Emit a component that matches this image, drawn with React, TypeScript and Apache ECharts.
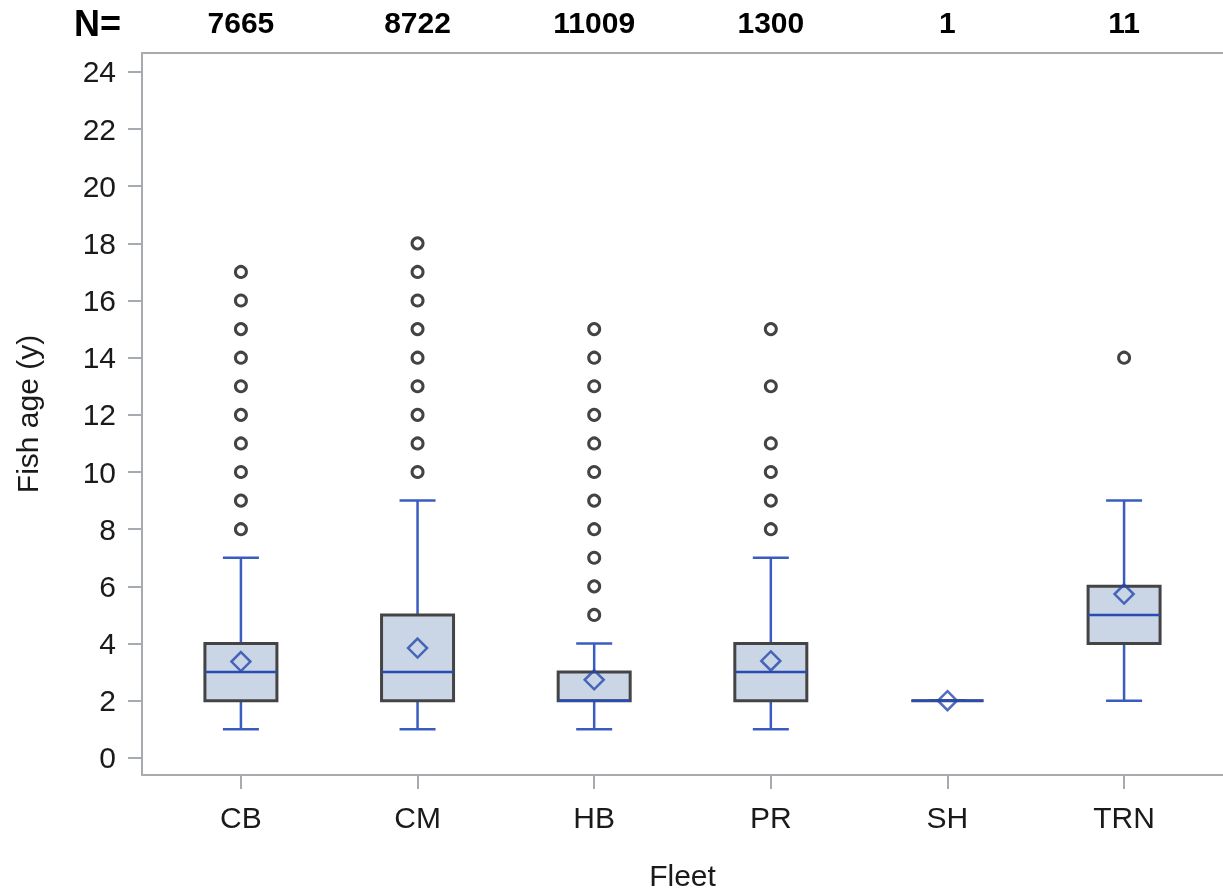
import React, { useEffect, useRef } from 'react';
import * as echarts from 'echarts';

const fleets = ['CB', 'CM', 'HB', 'PR', 'SH', 'TRN'];
const counts = [7665, 8722, 11009, 1300, 1, 11];
const whiskerLow = [1, 1, 1, 1, 2, 2];
const q1 = [2, 2, 2, 2, 2, 4];
const medians = [3, 3, 2, 3, 2, 5];
const q3 = [4, 5, 3, 4, 2, 6];
const whiskerHigh = [7, 9, 4, 7, 2, 9];
const means = [3.37, 3.84, 2.73, 3.39, 2.0, 5.73];
const outliersCB = [8, 9, 10, 11, 12, 13, 14, 15, 16, 17];
const outliersCM = [10, 11, 12, 13, 14, 15, 16, 17, 18];
const outliersHB = [5, 6, 7, 8, 9, 10, 11, 12, 13, 14, 15];
const outliersPR = [8, 9, 10, 11, 13, 15];
const outliersSH: number[] = [];
const outliersTRN = [14];
const yTicks = [0, 2, 4, 6, 8, 10, 12, 14, 16, 18, 20, 22, 24];
const xTicks = [0, 1, 2, 3, 4, 5];

const FONT = "'Liberation Sans', Arial, Helvetica, sans-serif";
const AXIS_COLOR = '#a7abaf';

export default function App() {
  const ref = useRef<HTMLDivElement>(null);
  useEffect(() => {
    if (!ref.current) return;
    const chart = echarts.init(ref.current, undefined, { renderer: 'svg' });
    const outlierGroups = [outliersCB, outliersCM, outliersHB, outliersPR, outliersSH, outliersTRN];
    const outlierData: number[][] = [];
    outlierGroups.forEach((g, i) => g.forEach((v) => outlierData.push([i, v])));
    const boxData = fleets.map((_, i) => [i, whiskerLow[i], q1[i], medians[i], q3[i], whiskerHigh[i]]);
    const meanData = means.map((m, i) => [i, m]);

    const option: any = {
      animation: false,
      textStyle: { fontFamily: FONT },
      grid: { left: 142, right: 0, top: 53, bottom: 121, containLabel: false },
      graphic: [
        {
          type: 'text',
          left: 74,
          top: 5,
          style: { text: 'N=', font: `bold 36px ${FONT}`, fill: '#000' },
        },
      ],
      xAxis: [
        {
          type: 'value',
          min: -0.56,
          max: 5.56,
          position: 'bottom',
          axisLine: { show: true, onZero: false, lineStyle: { color: AXIS_COLOR, width: 2 } },
          axisTick: { show: true, length: 14, customValues: xTicks, lineStyle: { color: AXIS_COLOR, width: 2 } },
          axisLabel: {
            customValues: xTicks,
            formatter: (v: number) => fleets[Math.round(v)] ?? '',
            fontSize: 30,
            margin: 27,
            color: '#1a1a1a',
            fontFamily: FONT,
          },
          splitLine: { show: false },
          name: 'Fleet',
          nameLocation: 'middle',
          nameGap: 85,
          nameTextStyle: { fontSize: 30, color: '#1a1a1a', fontFamily: FONT },
        },
        {
          type: 'value',
          min: -0.56,
          max: 5.56,
          position: 'top',
          axisLine: { show: true, onZero: false, lineStyle: { color: AXIS_COLOR, width: 2 } },
          axisTick: { show: false },
          axisLabel: {
            customValues: xTicks,
            formatter: (v: number) => String(counts[Math.round(v)] ?? ''),
            fontSize: 30,
            fontWeight: 'bold',
            margin: 16,
            color: '#000',
            fontFamily: FONT,
          },
          splitLine: { show: false },
        },
      ],
      yAxis: {
        type: 'value',
        min: -0.6,
        max: 24.66,
        axisLine: { show: true, onZero: false, lineStyle: { color: AXIS_COLOR, width: 2 } },
        axisTick: { show: true, length: 14, customValues: yTicks, lineStyle: { color: AXIS_COLOR, width: 2 } },
        axisLabel: { customValues: yTicks, fontSize: 30, margin: 26, color: '#1a1a1a', fontFamily: FONT },
        splitLine: { show: false },
        name: 'Fish age (y)',
        nameLocation: 'middle',
        nameGap: 100,
        nameTextStyle: { fontSize: 30, color: '#1a1a1a', fontFamily: FONT },
      },
      series: [
        {
          type: 'custom',
          xAxisIndex: 0,
          data: boxData,
          encode: { x: 0, y: [1, 2, 3, 4, 5] },
          z: 2,
          renderItem: (_params: any, api: any) => {
            const x = api.value(0);
            const lo = api.coord([x, api.value(1)]);
            const b1 = api.coord([x, api.value(2)]);
            const md = api.coord([x, api.value(3)]);
            const b3 = api.coord([x, api.value(4)]);
            const hi = api.coord([x, api.value(5)]);
            const cx = lo[0];
            const hw = 36;
            const cw = 18;
            const ws = { stroke: '#3a5cbf', lineWidth: 2.5 };
            return {
              type: 'group',
              children: [
                { type: 'line', shape: { x1: cx, y1: lo[1], x2: cx, y2: b1[1] }, style: ws },
                { type: 'line', shape: { x1: cx, y1: b3[1], x2: cx, y2: hi[1] }, style: ws },
                { type: 'line', shape: { x1: cx - cw, y1: lo[1], x2: cx + cw, y2: lo[1] }, style: ws },
                { type: 'line', shape: { x1: cx - cw, y1: hi[1], x2: cx + cw, y2: hi[1] }, style: ws },
                {
                  type: 'rect',
                  shape: { x: cx - hw, y: b3[1], width: hw * 2, height: b1[1] - b3[1] },
                  style: { fill: '#cad5e6', stroke: '#444444', lineWidth: 3 },
                },
                {
                  type: 'line',
                  shape: { x1: cx - hw, y1: md[1], x2: cx + hw, y2: md[1] },
                  style: { stroke: '#2a4cae', lineWidth: 2.5 },
                },
              ],
            };
          },
        },
        {
          type: 'scatter',
          xAxisIndex: 0,
          data: outlierData,
          symbol: 'circle',
          symbolSize: 11,
          z: 3,
          itemStyle: { color: '#ffffff', borderColor: '#141414', borderWidth: 3 },
        },
        {
          type: 'scatter',
          xAxisIndex: 0,
          data: meanData,
          symbol: 'diamond',
          symbolSize: 19,
          z: 4,
          itemStyle: { color: 'rgba(0,0,0,0)', borderColor: '#2447ad', borderWidth: 2.5 },
        },
      ],
    };
    chart.setOption(option);
    return () => chart.dispose();
  }, []);
  return <div ref={ref} style={{ position: 'fixed', left: 0, top: 0, width: 1223, height: 896 }} />;
}
